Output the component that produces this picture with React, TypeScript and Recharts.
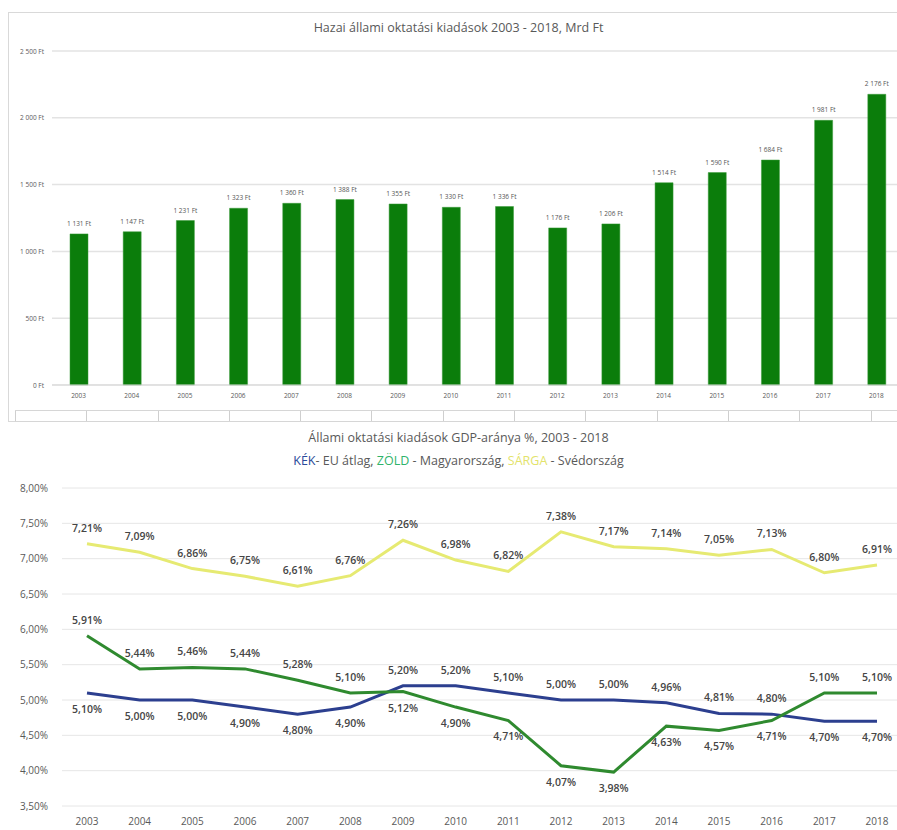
import React from "react";
import { BarChart, Bar, XAxis, YAxis, CartesianGrid, LabelList, LineChart, Line } from "recharts";

const years = ["2003", "2004", "2005", "2006", "2007", "2008", "2009", "2010", "2011", "2012", "2013", "2014", "2015", "2016", "2017", "2018"];
const spendingMrdFt = [1131, 1147, 1231, 1323, 1360, 1388, 1355, 1330, 1336, 1176, 1206, 1514, 1590, 1684, 1981, 2176];
const spendingTicks = [0, 500, 1000, 1500, 2000, 2500];

const euAverage = [5.1, 5.0, 5.0, 4.9, 4.8, 4.9, 5.2, 5.2, 5.1, 5.0, 5.0, 4.96, 4.81, 4.8, 4.7, 4.7];
const hungary = [5.91, 5.44, 5.46, 5.44, 5.28, 5.1, 5.12, 4.9, 4.71, 4.07, 3.98, 4.63, 4.57, 4.71, 5.1, 5.1];
const sweden = [7.21, 7.09, 6.86, 6.75, 6.61, 6.76, 7.26, 6.98, 6.82, 7.38, 7.17, 7.14, 7.05, 7.13, 6.8, 6.91];
const gdpTicks = [3.5, 4, 4.5, 5, 5.5, 6, 6.5, 7, 7.5, 8];

const FONT = "'Open Sans', 'Liberation Sans', sans-serif";

const fmtFt = (v: number) => {
  const th = Math.floor(v / 1000);
  const rest = v % 1000;
  return th > 0 ? `${th} ${String(rest).padStart(3, "0")} Ft` : `${rest} Ft`;
};
const fmtPct = (v: number) => v.toFixed(2).replace(".", ",") + "%";

const barData = years.map((y, i) => ({ year: y, value: spendingMrdFt[i] }));
const lineData = years.map((y, i) => ({ year: y, eu: euAverage[i], hu: hungary[i], se: sweden[i] }));

const BarValueLabel = (props: any) => {
  const { x, y, width, value } = props;
  return (
    <text x={x + width / 2} y={y - 8} textAnchor="middle" fontSize={6.5} fill="#555" fontFamily={FONT}>
      {fmtFt(value)}
    </text>
  );
};

const FtTick = (props: any) => {
  const { x, y, payload } = props;
  return (
    <text x={x + 4} y={y + 2.5} textAnchor="end" fontSize={6.5} fill="#595959" fontFamily={FONT}>
      {fmtFt(payload.value)}
    </text>
  );
};

const makeLineLabel = (own: number[], other: number[] | null) => (props: any) => {
  const { x, y, value, index } = props;
  const above = other ? own[index] >= other[index] : true;
  return (
    <text
      x={x}
      y={above ? y - 12 : y + 20}
      textAnchor="middle"
      fontSize={10.5}
      fontWeight={600}
      fill="#454545"
      fontFamily={FONT}
    >
      {fmtPct(value)}
    </text>
  );
};

export default function App() {
  return (
    <div style={{ position: "relative", width: 897, height: 830, overflow: "hidden", background: "#fff", fontFamily: FONT }}>
      <style>{"body{margin:0}"}</style>

      {/* top chart frame */}
      <div style={{ position: "absolute", left: 8, top: 12, width: 900, height: 410, border: "1px solid #d9d9d9", boxSizing: "border-box" }} />
      <div style={{ position: "absolute", left: 15, top: 410, width: 900, height: 12, display: "flex", borderTop: "1px solid #d6d6d6", borderBottom: "1px solid #d6d6d6", boxSizing: "border-box" }}>
        {Array.from({ length: 13 }).map((_, i) => (
          <div key={i} style={{ width: 71.3, flex: "0 0 71.3px", borderLeft: "1px solid #cfcfcf", boxSizing: "border-box" }} />
        ))}
      </div>

      <div style={{ position: "absolute", left: 0, right: 0, top: 19, textAlign: "center", fontSize: 12.5, color: "#595959", paddingLeft: 20 }}>
        Hazai állami oktatási kiadások 2003 - 2018, Mrd Ft
      </div>

      <div style={{ position: "absolute", left: 0, top: 0 }}>
        <BarChart width={903} height={400} data={barData} margin={{ top: 51, right: 0, left: 0, bottom: 0 }}>
          <CartesianGrid vertical={false} stroke="#e3e3e3" strokeWidth={1.5} />
          <XAxis
            dataKey="year"
            height={15}
            tickLine={false}
            axisLine={{ stroke: "#d9d9d9" }}
            tick={{ fontSize: 6.5, fill: "#595959", fontFamily: FONT }}
            tickMargin={2}
          />
          <YAxis
            width={52}
            domain={[0, 2500]}
            ticks={spendingTicks}
            axisLine={false}
            tickLine={false}
            tick={<FtTick />}
            tickMargin={6}
          />
          <Bar dataKey="value" fill="#0b7d0b" stroke="#3a9a3a" strokeWidth={0.5} barSize={18} isAnimationActive={false}>
            <LabelList dataKey="value" content={BarValueLabel} />
          </Bar>
        </BarChart>
      </div>

      {/* bottom chart titles */}
      <div style={{ position: "absolute", left: 0, right: 0, top: 429, textAlign: "center", fontSize: 12.5, color: "#595959", paddingLeft: 20 }}>
        Állami oktatási kiadások GDP-aránya %, 2003 - 2018
      </div>
      <div style={{ position: "absolute", left: 0, right: 0, top: 452, textAlign: "center", fontSize: 12.5, color: "#595959", paddingLeft: 20 }}>
        <span style={{ color: "#2a4a9a" }}>KÉK</span>- EU átlag, <span style={{ color: "#2fb36a" }}>ZÖLD</span> - Magyarország,{" "}
        <span style={{ color: "#e3e36a" }}>SÁRGA</span> - Svédország
      </div>

      <div style={{ position: "absolute", left: 0, top: 470 }}>
        <LineChart width={903} height={360} data={lineData} margin={{ top: 18, right: 0, left: 0, bottom: 0 }}>
          <CartesianGrid vertical={false} stroke="#e6e6e6" />
          <XAxis
            dataKey="year"
            height={24}
            tickLine={false}
            axisLine={false}
            padding={{ left: 25, right: 26 }}
            tick={{ fontSize: 10, fill: "#595959", fontFamily: FONT }}
            tickMargin={6}
          />
          <YAxis
            width={62}
            domain={[3.5, 8]}
            ticks={gdpTicks}
            tickFormatter={fmtPct}
            axisLine={false}
            tickLine={false}
            tick={{ fontSize: 10, fill: "#595959", fontFamily: FONT }}
            tickMargin={8}
          />
          <Line dataKey="se" stroke="#e6ea72" strokeWidth={3} dot={false} isAnimationActive={false}>
            <LabelList dataKey="se" content={makeLineLabel(sweden, null)} />
          </Line>
          <Line dataKey="eu" stroke="#2c3f8f" strokeWidth={3} dot={false} isAnimationActive={false}>
            <LabelList dataKey="eu" content={makeLineLabel(euAverage, hungary)} />
          </Line>
          <Line dataKey="hu" stroke="#2f8a2f" strokeWidth={3} dot={false} isAnimationActive={false}>
            <LabelList dataKey="hu" content={makeLineLabel(hungary, euAverage)} />
          </Line>
        </LineChart>
      </div>
    </div>
  );
}
